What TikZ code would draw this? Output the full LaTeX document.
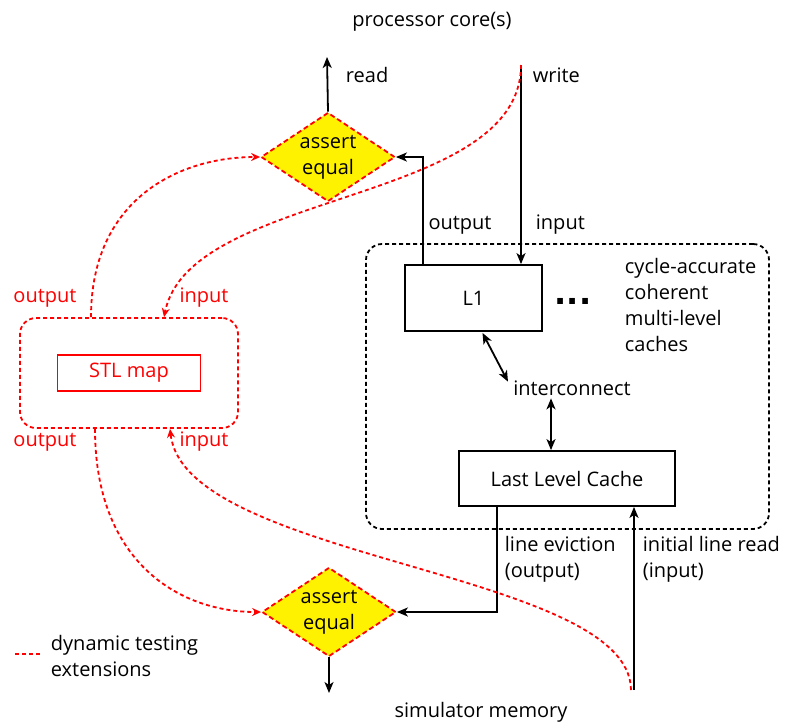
\documentclass[tikz,border=0pt]{standalone}
\usepackage{fontspec}
\setmainfont{Open Sans}
\newfontfamily\dotfont{DejaVu Sans}
\usetikzlibrary{shapes.geometric,arrows.meta}
\begin{document}
\begin{tikzpicture}[x=1pt, y=-1pt, line width=1.8pt]
      \tikzstyle{every node}=[font=\fontsize{20}{26}\selectfont, align=center, inner sep=2pt]
      \tikzstyle{cache}=[draw]
      \tikzstyle{group}=[draw, rounded corners=16pt, dash pattern=on 4pt off 3pt]
      \tikzstyle{check}=[diamond, draw=red, dash pattern=on 5pt off 3pt, fill=yellow, inner sep=0pt,
                         minimum width=134pt, minimum height=89pt, shape aspect=1.5]
      \tikzstyle{ext}=[red, dash pattern=on 4pt off 3pt, -{Stealth[length=9pt, width=8pt, inset=3pt]}]
      \tikzstyle{wire}=[-{Stealth[length=11pt, width=9pt, inset=3pt]}]
      \tikzstyle{both}=[{Stealth[length=11pt, width=9pt, inset=3pt]}-{Stealth[length=11pt, width=9pt, inset=3pt]}]
      \useasboundingbox (0,0) rectangle (786,724);

      \path (567.5,386.5) node[group, minimum width=403pt, minimum height=285pt] (cachegrp) {};
      \path (129,373) node[group, draw=red, minimum width=218pt, minimum height=110pt] (stlgrp) {};
      \path (129,373) node[draw=red, text=red, minimum width=143pt, minimum height=36pt] (stl) {STL map};

      \path (473.5,298) node[cache, minimum width=137pt, minimum height=66pt] (l1) {L1};
      \path (567,478.5) node[cache, minimum width=216pt, minimum height=55pt] (llc) {Last Level Cache};
      \path (572,388) node (inter) {interconnect};
      \path (573,301) node[font=\dotfont\bfseries\fontsize{32}{32}\selectfont] (dots) {...};
      \path (622,305) node[anchor=west, align=left] (cachetxt) {cycle-accurate\\coherent\\multi-level\\caches};

      \path (328,157) node[check] (eq1) {assert\\equal};
      \path (329,612) node[check] (eq2) {assert\\equal};

      \path (432,22) node (core) {processor core(s)};
      \path (481,712) node (mem) {simulator memory};

      \coordinate (rd) at (327,57);
      \coordinate (wr) at (521,65);
      \coordinate (outl) at (423,0);
      \coordinate (ev) at (497,0);
      \coordinate (ird) at (634,690);
      \coordinate (memend) at (329,693);

      \draw[wire] (eq1.north) -- (rd);
      \draw[wire] (l1.north -| outl) |- (eq1.east);
      \draw[wire] (wr) -- (wr |- l1.north);
      \draw[both] ([xshift=9pt, yshift=-1pt]l1.south) -- ([xshift=-64pt, yshift=-4pt]inter.north);
      \draw[both] ([xshift=-21pt]inter.south) -- ([xshift=-21pt]inter.south |- llc.north);
      \draw[wire] (llc.south -| ev) |- (eq2.east);
      \draw[wire] (ird) -- (ird |- llc.south);
      \draw[wire] (eq2.south) -- (memend);

      \path (343,75) node[anchor=west] (readlbl) {read};
      \path (530,75) node[anchor=west] (writelbl) {write};
      \path (460,225) node (outlbl) {output};
      \path (533,225) node[anchor=west] (inlbl) {input};
      \path (502,559) node[anchor=west, align=left] (evlbl) {line eviction\\(output)};
      \path (640,559) node[anchor=west, align=left] (irdlbl) {initial line read\\(input)};

      \draw[ext] ([xshift=-38pt]stlgrp.north) .. controls +(0,-118) and +(-81,0) .. (eq1.west);
      \draw[ext] (wr) .. controls +(0,140) and +(26,-128) .. ([xshift=35pt]stlgrp.north);
      \draw[ext] ([xshift=-34pt]stlgrp.south) .. controls +(0,132) and +(-83,0) .. (eq2.west);
      \draw[ext] ([xshift=-3pt]ird) .. controls +(-1,-120) and +(15,132) .. ([xshift=41pt]stlgrp.south);

      \foreach \y/\n in {298/top, 442/bot}
      {
        \path (45,\y) node[text=red] (out\n) {output};
        \path (204,\y) node[text=red] (in\n) {input};
      }

      \coordinate (leg) at (15,654);
      \draw[red, dash pattern=on 4pt off 3pt] (leg) -- ++(25,0);
      \path (48,656) node[anchor=west, align=left] (legtxt) {dynamic testing\\extensions};
    \end{tikzpicture}
\end{document}
